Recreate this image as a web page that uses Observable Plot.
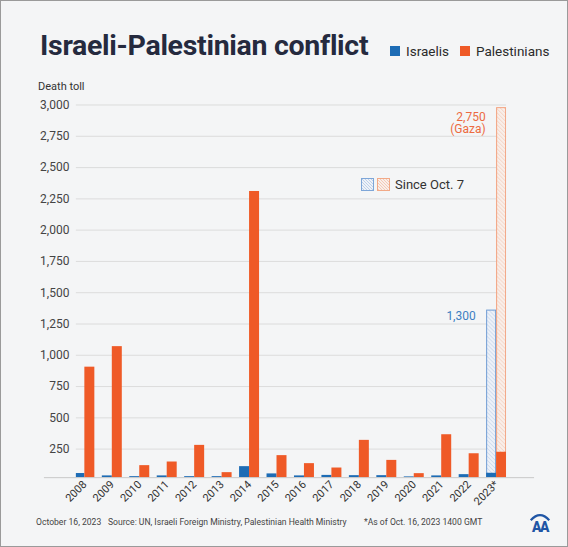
<!DOCTYPE html>
<html>
<head>
<meta charset="utf-8">
<script src="https://cdn.jsdelivr.net/npm/d3@7"></script>
<script src="https://cdn.jsdelivr.net/npm/@observablehq/plot@0.6"></script>
<style>
  html, body { margin: 0; padding: 0; background: #f4f5f6; }
  #wrap { position: relative; width: 568px; height: 547px; box-sizing: border-box; border: 1px solid #9a9a9a; overflow: hidden; font-family: Roboto, sans-serif; background: #f4f5f6; }
  #chart { position: absolute; left: -1px; top: -1px; }
  .abs { position: absolute; white-space: nowrap; }
  #title { left: 39px; top: 28px; font-size: 28.5px; font-weight: 700; color: #252a3e; letter-spacing: -0.3px; }
  .leg { top: 42px; font-size: 13.5px; color: #2b2b2b; display: flex; align-items: center; }
  .sw { display: inline-block; width: 10px; height: 10px; margin-right: 6px; }
  #ylab { left: 37px; top: 79px; font-size: 11px; color: #333; }
  #since { left: 360px; top: 176px; font-size: 13px; color: #333; display: flex; align-items: center; }
  .foot { top: 516px; font-size: 8.6px; color: #444; }
</style>
</head>
<body>
<div id="wrap">
  <div id="chart"></div>
  <div id="title" class="abs">Israeli-Palestinian conflict</div>
  <div class="abs leg" style="left:389px"><span class="sw" style="background:#1d6cb5"></span>Israelis</div>
  <div class="abs leg" style="left:459px"><span class="sw" style="background:#ef5a27"></span>Palestinians</div>
  <div id="ylab" class="abs">Death toll</div>
  <div id="since" class="abs">
    <svg width="30" height="13" style="margin-right:4px">
      <rect x="0.5" y="0.5" width="12" height="12" fill="url(#hatchBlueL)" stroke="#7ea6d8"/>
      <rect x="16.5" y="0.5" width="12" height="12" fill="url(#hatchOrangeL)" stroke="#f2a987"/>
    </svg>Since Oct. 7
  </div>
  <div class="abs foot" style="left:35px">October 16, 2023</div>
  <div class="abs foot" style="left:107px">Source: UN, Israeli Foreign Ministry, Palestinian Health Ministry</div>
  <div class="abs foot" style="left:363px">*As of Oct. 16, 2023 1400 GMT</div>
  <svg class="abs" style="left:527px; top:510px" width="24" height="24" viewBox="0 0 26 26">
    <path d="M3,10 Q13,-1 23,10" fill="none" stroke="#1f55a5" stroke-width="2.4"/>
    <text x="13" y="23" text-anchor="middle" font-family="Roboto" font-weight="900" font-size="15" fill="#1f55a5" letter-spacing="-1.5">AA</text>
  </svg>
</div>
<script>
const years = ["2008","2009","2010","2011","2012","2013","2014","2015","2016","2017","2018","2019","2020","2021","2022","2023*"];
const israelis =     [55, 36, 30, 36, 30, 30, 110, 52, 36, 40, 38, 38, 28, 36, 46, 57];
const palestinians = [905, 1069, 118, 147, 280, 62, 2309, 198, 134, 99, 320, 160, 54, 365, 213, 225];
const sinceYear = ["2023*"];
const sinceIsraelis = [1300];
const sincePalestinians = [2750];
const sinceLabelsIsr = ["1,300"];
const sinceLabelsPal = ["2,750\n(Gaza)"];
const yTicks = [250, 500, 750, 1000, 1250, 1500, 1750, 2000, 2250, 2500, 2750, 3000];

const blue = "#1d6cb5", orange = "#ef5a27";
const last = years.length - 1;

const chart = Plot.plot({
  width: 568, height: 547,
  marginTop: 104.7, marginBottom: 69, marginLeft: 76, marginRight: 61,
  style: { background: "transparent", fontFamily: "Roboto, sans-serif", overflow: "visible" },
  x: { type: "band", domain: years, range: [79.5, 502], paddingInner: 0.636, paddingOuter: 0, align: 0.5, round: false, label: null },
  y: { domain: [22, 3000], label: null },
  marks: [
    Plot.gridY(yTicks, { stroke: "#dcdcdc", strokeOpacity: 1, strokeWidth: 1 }),
    Plot.axisY(yTicks, { tickSize: 0, tickPadding: 7, tickFormat: d3.format(","), fontSize: 12, fill: "#444", label: null }),
    Plot.axisX({ tickSize: 0, tickPadding: 5, tickRotate: -45, fontSize: 11, fill: "#333", label: null }),
    Plot.barY(sinceYear, { x: d => d, y1: 0, y2: (d, i) => israelis[last] + sinceIsraelis[i], fill: "url(#hatchBlue)", stroke: "#6f9cd4", strokeWidth: 1, dx: -5, insetLeft: 0.5, insetRight: 0.5, clip: true }),
    Plot.barY(sinceYear, { x: d => d, y1: 0, y2: (d, i) => palestinians[last] + sincePalestinians[i], fill: "url(#hatchOrange)", stroke: "#f3a27f", strokeWidth: 1, dx: 5, insetLeft: 0.5, insetRight: 0.5, clip: true }),
    Plot.barY(years, { x: d => d, y: (d, i) => israelis[i], fill: blue, dx: -5, clip: true }),
    Plot.barY(years, { x: d => d, y: (d, i) => palestinians[i], fill: orange, dx: 5, clip: true }),
    Plot.ruleY(sinceYear, { x: d => d, y: (d, i) => israelis[last] + sinceIsraelis[i], dy: 5, dx: -14, stroke: "#5b8fcf", strokeWidth: 1 }),
    Plot.text(sinceYear, { x: d => d, y: (d, i) => israelis[last] + sinceIsraelis[i], text: (d, i) => sinceLabelsIsr[i], dy: 6, dx: -21, textAnchor: "end", fill: "#3d7fc2", fontSize: 12 }),
    Plot.ruleY(sinceYear, { x: d => d, y: (d, i) => palestinians[last] + sincePalestinians[i], dy: 13, dx: -4, stroke: "#f08a66", strokeWidth: 1 }),
    Plot.text(sinceYear, { x: d => d, y: (d, i) => palestinians[last] + sincePalestinians[i], text: (d, i) => sinceLabelsPal[i], dy: 15, dx: -11, textAnchor: "end", lineAnchor: "middle", lineHeight: 1.05, fill: "#ec6a40", fontSize: 12 }),
    Plot.ruleY([22], { stroke: "#c9c9c9", strokeWidth: 1, insetLeft: -32, insetRight: -28 })
  ]
});

const defs = d3.select(chart).insert("defs", ":first-child");
function hatch(id, bg, line, size) {
  const p = defs.append("pattern").attr("id", id).attr("patternUnits", "userSpaceOnUse").attr("width", size).attr("height", size);
  p.append("rect").attr("width", size).attr("height", size).attr("fill", bg);
  p.append("path").attr("d", `M0,0 L${size},${size} M${-size/2},${size/2} L${size/2},${size*1.5} M${size/2},${-size/2} L${size*1.5},${size/2}`)
    .attr("stroke", line).attr("stroke-width", 0.7);
}
hatch("hatchBlue", "#eef2f8", "#b4c9e6", 4);
hatch("hatchOrange", "#f8efea", "#f4c3ad", 4);
hatch("hatchBlueL", "#eef2f8", "#a9c2e4", 3);
hatch("hatchOrangeL", "#f8efea", "#f3b99f", 3);

document.getElementById("chart").appendChild(chart);
</script>
</body>
</html>
